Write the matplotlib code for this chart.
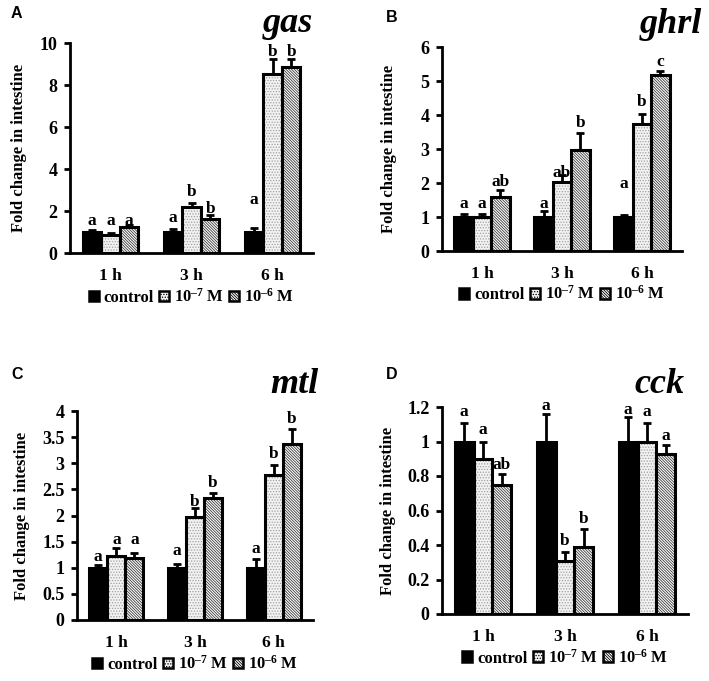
import numpy as np
import matplotlib
matplotlib.use('Agg')
import matplotlib.pyplot as plt
from matplotlib.patches import Patch

plt.rcParams.update({
    'font.family': ['Liberation Serif', 'DejaVu Serif'],
    'font.weight': 'bold',
    'axes.labelweight': 'bold',
    'mathtext.fontset': 'custom',
    'mathtext.rm': 'Liberation Serif:bold',
    'mathtext.it': 'Liberation Serif:bold',
    'mathtext.bf': 'Liberation Serif:bold',
    'hatch.linewidth': 0.6,
})

categories = ['1 h', '3 h', '6 h']
treatments = ['control', '10$^{\u20137}$ M', '10$^{\u20136}$ M']

# gas
gas_mean = [[1.0, 1.0, 1.0], [0.85, 2.18, 8.52], [1.26, 1.64, 8.87]]
gas_err = [[0.1, 0.12, 0.18], [0.08, 0.18, 0.72], [0.08, 0.15, 0.35]]
gas_letters = [['a', 'a', 'a'], ['a', 'b', 'b'], ['a', 'b', 'b']]
gas_letter_y = [[1.48, 1.62, 2.5], [1.48, 2.9, 9.57], [1.48, 2.05, 9.57]]

# ghrl
ghrl_mean = [[1.0, 1.0, 1.0], [1.0, 2.03, 3.75], [1.59, 2.98, 5.18]]
ghrl_err = [[0.08, 0.18, 0.06], [0.08, 0.2, 0.27], [0.19, 0.49, 0.1]]
ghrl_letters = [['a', 'a', 'a'], ['a', 'ab', 'b'], ['ab', 'b', 'c']]
ghrl_letter_y = [[1.37, 1.37, 1.96], [1.37, 2.27, 4.38], [2.0, 3.75, 5.53]]

# mtl
mtl_mean = [[1.0, 1.0, 1.0], [1.23, 1.98, 2.77], [1.18, 2.33, 3.37]]
mtl_err = [[0.06, 0.08, 0.17], [0.14, 0.16, 0.19], [0.1, 0.1, 0.29]]
mtl_letters = [['a', 'a', 'a'], ['a', 'b', 'b'], ['a', 'b', 'b']]
mtl_letter_y = [[1.19, 1.31, 1.35], [1.52, 2.25, 3.16], [1.52, 2.61, 3.83]]

# cck
cck_mean = [[1.0, 1.0, 1.0], [0.9, 0.31, 1.0], [0.75, 0.39, 0.93]]
cck_err = [[0.11, 0.16, 0.14], [0.1, 0.05, 0.11], [0.06, 0.1, 0.05]]
cck_letters = [['a', 'a', 'a'], ['a', 'b', 'a'], ['ab', 'b', 'a']]
cck_letter_y = [[1.17, 1.205, 1.18], [1.066, 0.419, 1.166], [0.863, 0.548, 1.027]]

FACE = ['black', '#f2f2f2', 'white']
HATCH = [None, '......', '\\' * 12]
HCOL = ['black', '#a0a0a0', '#3a3a3a']

W, H = 709, 681
fig = plt.figure(figsize=(W / 100, H / 100), dpi=100)


def px_axes(left, right, top, bottom):
    return fig.add_axes([left / W, 1 - bottom / H, (right - left) / W, (bottom - top) / H])


def panel(ax, mean, err, letters, letter_y, ymax, yticks, yticklabels, gene, tag, tag_xy, gene_xy):
    x = np.arange(len(categories))
    w = 0.23
    for i in range(3):
        pos = x + (i - 1) * w
        ax.bar(pos, mean[i], w, color=FACE[i], edgecolor=HCOL[i], hatch=HATCH[i],
               linewidth=0, zorder=2)
        ax.bar(pos, mean[i], w, color='none', edgecolor='black', linewidth=2.2, zorder=3)
        ax.errorbar(pos, mean[i], yerr=[np.zeros(3), err[i]], fmt='none', ecolor='black',
                    elinewidth=2.0, capsize=3, capthick=2.0, zorder=1)
        for j in range(3):
            ax.annotate(letters[i][j], (pos[j], letter_y[i][j]), xytext=(0, -2.5),
                        textcoords='offset points', ha='center', va='baseline',
                        fontsize=12.5, zorder=4, annotation_clip=False)
    ax.set_xlim(-0.5, 2.5)
    ax.set_ylim(0, ymax)
    ax.set_yticks(yticks)
    ax.set_yticklabels(yticklabels, fontsize=13)
    ax.set_xticks(x)
    ax.set_xticklabels(categories, fontsize=12.5)
    ax.tick_params(axis='x', length=0, pad=11)
    ax.tick_params(axis='y', direction='out', length=4, width=2.0, pad=5)
    for s in ['top', 'right']:
        ax.spines[s].set_visible(False)
    for s in ['left', 'bottom']:
        ax.spines[s].set_linewidth(2.0)
    ax.set_ylabel('Fold change in intestine', fontsize=12)
    handles = [Patch(facecolor=FACE[i], edgecolor='black', hatch=HATCH[i], linewidth=1.8)
               for i in range(3)]
    ax.legend(handles, treatments, loc='upper center', bbox_to_anchor=(0.5, -0.135),
              ncol=3, frameon=False, fontsize=12, handlelength=0.6, handleheight=0.6,
              handletextpad=0.3, columnspacing=0.3, borderaxespad=0)
    fig.text(tag_xy[0] / W, 1 - tag_xy[1] / H, tag, family='Liberation Sans',
             fontweight='bold', fontsize=11.5, ha='center', va='center')
    fig.text(gene_xy[0] / W, 1 - gene_xy[1] / H, gene, fontstyle='italic',
             fontweight='bold', fontsize=26, ha='right', va='baseline')


axA = px_axes(70, 313, 43, 253)
panel(axA, gas_mean, gas_err, gas_letters, gas_letter_y, 10, [0, 2, 4, 6, 8, 10],
      ['0', '2', '4', '6', '8', '10'], 'gas', 'A', (16, 14), (313, 32))
axA.yaxis.labelpad = 9

axB = px_axes(442, 682, 47, 251)
panel(axB, ghrl_mean, ghrl_err, ghrl_letters, ghrl_letter_y, 6, [0, 1, 2, 3, 4, 5, 6],
      ['0', '1', '2', '3', '4', '5', '6'], 'ghrl', 'B', (392, 17), (702, 33))
axB.yaxis.labelpad = 17

axC = px_axes(77, 313, 411, 620)
panel(axC, mtl_mean, mtl_err, mtl_letters, mtl_letter_y, 4,
      [0, 0.5, 1, 1.5, 2, 2.5, 3, 3.5, 4],
      ['0', '0.5', '1', '1.5', '2', '2.5', '3', '3.5', '4'], 'mtl', 'C', (17, 375), (318, 393))
axC.yaxis.labelpad = 9

axD = px_axes(442, 688, 407, 614)
panel(axD, cck_mean, cck_err, cck_letters, cck_letter_y, 1.2,
      [0, 0.2, 0.4, 0.6, 0.8, 1.0, 1.2],
      ['0', '0.2', '0.4', '0.6', '0.8', '1', '1.2'], 'cck', 'D', (392, 375), (685, 393))
axD.yaxis.labelpad = 8

fig.savefig('out.png', dpi=100)
